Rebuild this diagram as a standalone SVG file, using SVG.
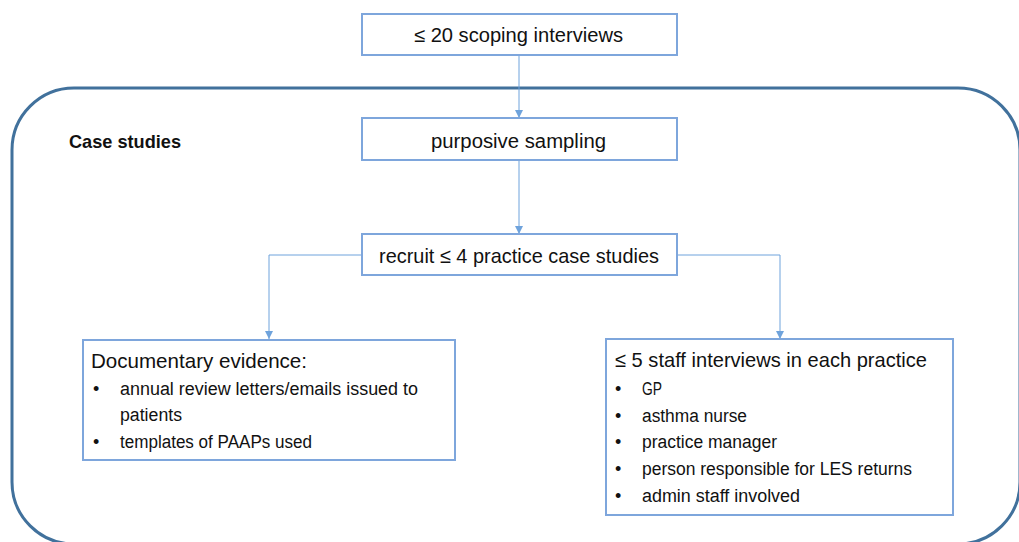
<svg xmlns="http://www.w3.org/2000/svg" width="1019" height="542" viewBox="0 0 1019 542">
<style>
.box{fill:#fff;stroke:#7EA6DC;stroke-width:2}
.t{font-family:"Liberation Sans",Arial,sans-serif;fill:#111}
.c{stroke:#6FA3DC;stroke-width:1;fill:none}
</style>
<defs>
<marker id="ah" viewBox="0 0 10 10" refX="10" refY="5" markerWidth="8" markerHeight="8" markerUnits="userSpaceOnUse" orient="auto">
<path d="M0,0 L10,5 L0,10 z" fill="#6FA3DC"/>
</marker>
</defs>
<rect x="12" y="88" width="1008" height="456" rx="62" ry="62" fill="none" stroke="#41719C" stroke-width="3"/>
<text class="t" x="69" y="148" font-size="19" font-weight="bold" textLength="112" lengthAdjust="spacingAndGlyphs">Case studies</text>
<g id="connectors">
<line class="c" x1="519" y1="55" x2="519" y2="118" marker-end="url(#ah)"/>
<line class="c" x1="519" y1="160" x2="519" y2="234" marker-end="url(#ah)"/>
<polyline class="c" points="362,255 269,255 269,339" marker-end="url(#ah)"/>
<polyline class="c" points="677,255 780,255 780,339" marker-end="url(#ah)"/>
</g>
<g id="scoping">
<rect class="box" x="362" y="14" width="315" height="41"/>
<text class="t" x="414" y="42" font-size="20" textLength="209" lengthAdjust="spacingAndGlyphs">≤ 20 scoping interviews</text>
</g>
<g id="purposive">
<rect class="box" x="362" y="118" width="315" height="42"/>
<text class="t" x="431" y="148" font-size="20" textLength="175" lengthAdjust="spacingAndGlyphs">purposive sampling</text>
</g>
<g id="recruit">
<rect class="box" x="362" y="234" width="315" height="41"/>
<text class="t" x="379" y="263" font-size="21" textLength="280" lengthAdjust="spacingAndGlyphs">recruit ≤ 4 practice case studies</text>
</g>
<g id="documentary">
<rect class="box" x="83" y="340" width="372" height="120"/>
<text class="t" x="91" y="368" font-size="21" textLength="216" lengthAdjust="spacingAndGlyphs">Documentary evidence:</text>
<text class="t" x="93" y="395" font-size="18">•</text>
<text class="t" x="120" y="395" font-size="18" textLength="298" lengthAdjust="spacingAndGlyphs">annual review letters/emails issued to</text>
<text class="t" x="120" y="421" font-size="18" textLength="62" lengthAdjust="spacingAndGlyphs">patients</text>
<text class="t" x="93" y="448" font-size="18">•</text>
<text class="t" x="120" y="448" font-size="18" textLength="192" lengthAdjust="spacingAndGlyphs">templates of PAAPs used</text>
</g>
<g id="staff">
<rect class="box" x="606" y="339" width="347" height="176"/>
<text class="t" x="615" y="367" font-size="21" textLength="312" lengthAdjust="spacingAndGlyphs">≤ 5 staff interviews in each practice</text>
<text class="t" x="615" y="395" font-size="18">•</text>
<text class="t" x="642" y="395" font-size="18" textLength="20" lengthAdjust="spacingAndGlyphs">GP</text>
<text class="t" x="615" y="422" font-size="18">•</text>
<text class="t" x="642" y="422" font-size="18" textLength="105" lengthAdjust="spacingAndGlyphs">asthma nurse</text>
<text class="t" x="615" y="448" font-size="18">•</text>
<text class="t" x="642" y="448" font-size="18" textLength="135" lengthAdjust="spacingAndGlyphs">practice manager</text>
<text class="t" x="615" y="475" font-size="18">•</text>
<text class="t" x="642" y="475" font-size="18" textLength="270" lengthAdjust="spacingAndGlyphs">person responsible for LES returns</text>
<text class="t" x="615" y="502" font-size="18">•</text>
<text class="t" x="642" y="502" font-size="18" textLength="158" lengthAdjust="spacingAndGlyphs">admin staff involved</text>
</g>
</svg>
